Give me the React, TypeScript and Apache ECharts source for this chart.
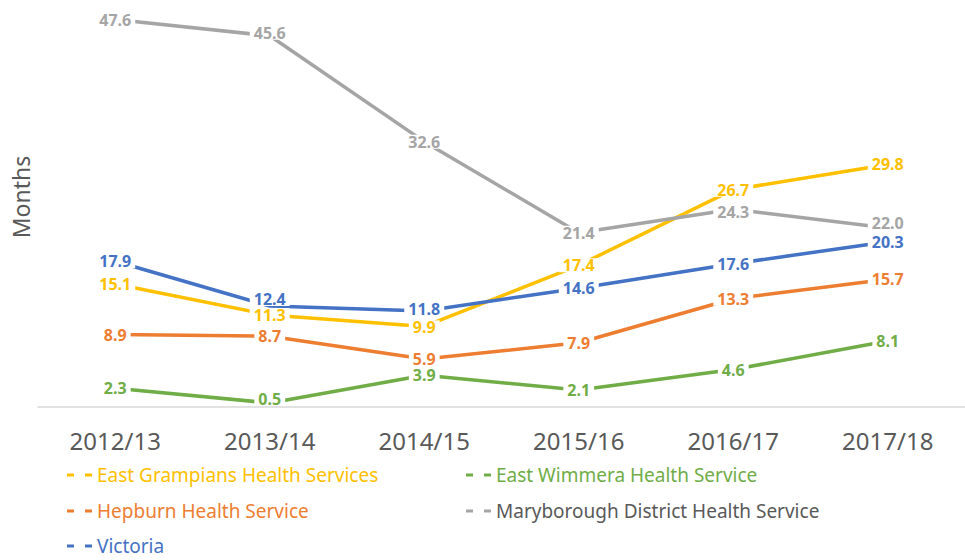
import React, { useEffect, useRef } from "react";
import * as echarts from "echarts";

const categories = ["2012/13", "2013/14", "2014/15", "2015/16", "2016/17", "2017/18"];
const eastGrampians = [15.1, 11.3, 9.9, 17.4, 26.7, 29.8];
const eastWimmera = [2.3, 0.5, 3.9, 2.1, 4.6, 8.1];
const hepburn = [8.9, 8.7, 5.9, 7.9, 13.3, 15.7];
const maryborough = [47.6, 45.6, 32.6, 21.4, 24.3, 22.0];
const victoria = [17.9, 12.4, 11.8, 14.6, 17.6, 20.3];

const seriesDefs = [
  { name: "East Grampians Health Services", data: eastGrampians, color: "#FFC000", legendColor: "#FFC000" },
  { name: "East Wimmera Health Service", data: eastWimmera, color: "#70AD47", legendColor: "#70AD47" },
  { name: "Hepburn Health Service", data: hepburn, color: "#ED7D31", legendColor: "#ED7D31" },
  { name: "Maryborough District Health Service", data: maryborough, color: "#A5A5A5", legendColor: "#595959" },
  { name: "Victoria", data: victoria, color: "#4472C4", legendColor: "#4472C4" },
];

// legend slot per series: [left, top]
const legendSlots: [number, number][] = [
  [67, 464],
  [466, 464],
  [67, 500],
  [466, 500],
  [67, 535],
];

// small vertical label nudges: [seriesIndex, pointIndex, dy]
const labelNudges: [number, number, number][] = [
  [0, 2, 1],
  [1, 1, -4],
  [3, 1, -3],
  [3, 4, 3],
  [3, 5, -5],
  [4, 1, -7],
  [4, 2, -2],
];

const FONT = "'Noto Sans', sans-serif";
const ICON = "path://M0,0H7V3H0Z M18,0H25V3H18Z";

export default function App() {
  const ref = useRef<HTMLDivElement>(null);
  useEffect(() => {
    if (!ref.current) return;
    const chart = echarts.init(ref.current, undefined, { renderer: "svg" });
    const nudge = (si: number, pi: number) => {
      const n = labelNudges.find((x) => x[0] === si && x[1] === pi);
      return n ? n[2] : 0;
    };
    chart.setOption({
      animation: false,
      backgroundColor: "#ffffff",
      grid: { left: 38, width: 929, top: -2.5, bottom: 153, containLabel: false },
      xAxis: {
        type: "category",
        data: categories,
        boundaryGap: true,
        axisLine: { show: true, lineStyle: { color: "#D9D9D9", width: 1.5 } },
        axisTick: { show: false },
        axisLabel: { color: "#595959", fontFamily: FONT, fontSize: 24, margin: 21 },
        splitLine: { show: false },
      },
      yAxis: {
        type: "value",
        min: 0,
        max: 50,
        show: false,
        splitLine: { show: false },
      },
      legend: seriesDefs.map((s, i) => ({
        orient: "horizontal",
        left: legendSlots[i][0],
        top: legendSlots[i][1],
        padding: 0,
        itemWidth: 25,
        itemHeight: 3,
        icon: ICON,
        selectedMode: false,
        textStyle: { fontFamily: FONT, fontSize: 19, lineHeight: 22, color: s.legendColor },
        data: [s.name],
      })),
      graphic: [
        {
          type: "text",
          x: 21,
          y: 197,
          rotation: Math.PI / 2,
          style: {
            text: "Months",
            fill: "#595959",
            font: `23px ${FONT}`,
            align: "center",
            verticalAlign: "middle",
          },
        },
      ],
      series: seriesDefs.map((s, si) => ({
        name: s.name,
        type: "line",
        data: s.data.map((v, pi) => ({ value: v, label: { offset: [0, nudge(si, pi)] } })),
        symbol: "circle",
        symbolSize: 2,
        showSymbol: true,
        itemStyle: { color: s.color },
        lineStyle: { color: s.color, width: 3.5 },
        emphasis: { disabled: true },
        label: {
          show: true,
          position: "inside",
          color: s.color,
          fontFamily: FONT,
          fontWeight: "bold",
          fontSize: 16,
          lineHeight: 14,
          backgroundColor: "#ffffff",
          padding: [0, 4],
          formatter: (p: any) => Number(p.value).toFixed(1),
        },
      })),
    });
    return () => chart.dispose();
  }, []);
  return (
    <div
      ref={ref}
      style={{ position: "absolute", left: 0, top: 0, width: 965, height: 560 }}
    />
  );
}
